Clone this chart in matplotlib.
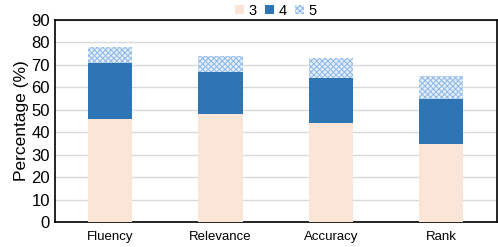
import numpy as np
import matplotlib.pyplot as plt

plt.rcParams['font.family'] = ['Liberation Sans', 'DejaVu Sans']
plt.rcParams['hatch.linewidth'] = 0.7

categories = ["Fluency", "Relevance", "Accuracy", "Rank"]
score3 = [46, 48, 44, 35]
score4 = [25, 19, 20, 20]
score5 = [7, 7, 9, 10]

fig, ax = plt.subplots(figsize=(4.98, 2.47), dpi=100)
fig.subplots_adjust(left=0.11, right=0.997, top=0.92, bottom=0.1)

x = np.arange(len(categories))
width = 0.4
b3 = np.array(score3)
b4 = b3 + np.array(score4)

ax.bar(x, score3, width, color="#FBE5D6", label="3", zorder=3)
ax.bar(x, score4, width, bottom=b3, color="#2E75B6", label="4", zorder=3)
ax.bar(x, score5, width, bottom=b4, color="#E4EEF9", edgecolor="#8DB8E8",
       hatch="xxxxxx", linewidth=0, label="5", zorder=3)

ax.set_xlim(-0.5, len(categories) - 0.5)
ax.set_ylim(0, 90)
ax.set_yticks(range(0, 91, 10))
ax.set_xticks(x)
ax.set_xticklabels(categories, fontsize=9.5)
ax.tick_params(axis="y", labelsize=12, length=0)
ax.tick_params(axis="x", length=0, pad=6.5)
ax.set_ylabel("Percentage (%)", fontsize=12.5, labelpad=2)
ax.yaxis.grid(True, color="#D9D9D9", linewidth=1, zorder=0)

for s in ax.spines.values():
    s.set_color("black")
    s.set_linewidth(1.2)

ax.legend(loc="lower center", bbox_to_anchor=(0.5, 0.98), ncol=3, frameon=False,
          fontsize=10.5, handlelength=0.6, handleheight=0.6, handletextpad=0.3,
          columnspacing=0.6, borderaxespad=0)

plt.savefig("out.png", dpi=100)
